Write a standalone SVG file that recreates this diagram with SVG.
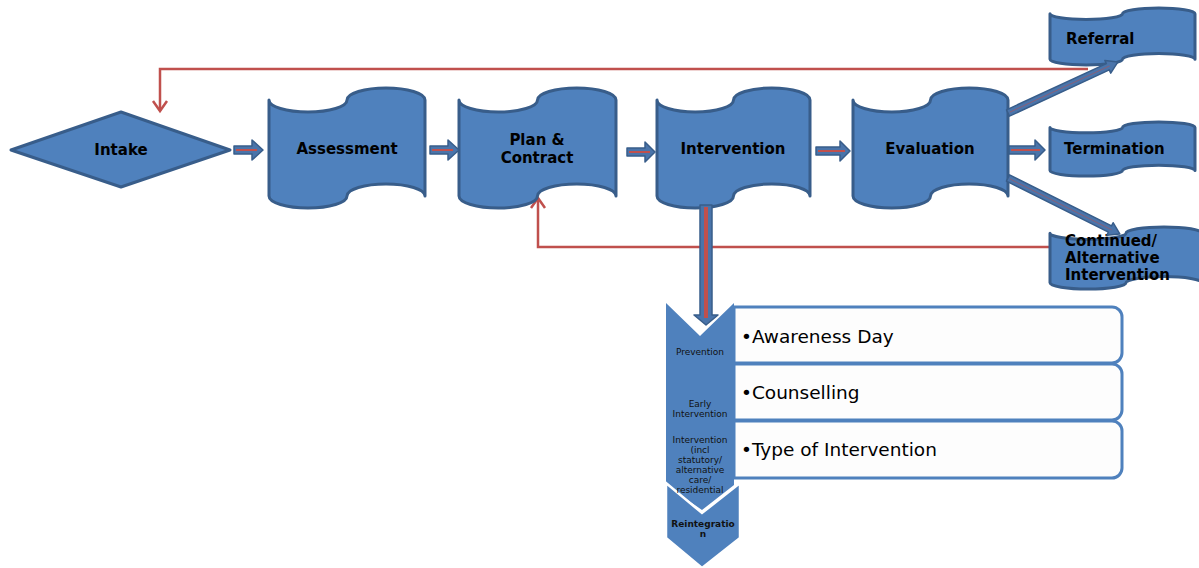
<svg xmlns="http://www.w3.org/2000/svg" width="1199" height="568" viewBox="0 0 1199 568">
<defs>
<style>
.node{fill:#4f81bd;stroke:#385d8a;stroke-width:3;stroke-linejoin:round}
.lbl{font-family:"DejaVu Sans",Verdana,sans-serif;font-weight:bold;font-size:15px;fill:#000}
.red{fill:none;stroke:#c0504d;stroke-width:2.5}
.redc{fill:none;stroke:#c0504d;stroke-width:2}
.blk{fill:#4a74aa;stroke:#385d8a;stroke-width:1.5;stroke-linejoin:round}
.chev{fill:#4f81bd}
.ctx{font-family:"DejaVu Sans",Verdana,sans-serif;font-size:9px;fill:#111;text-anchor:middle}
.box{fill:#fdfdfd;stroke:#4f81bd;stroke-width:3}
.btx{font-family:"DejaVu Sans",Verdana,sans-serif;font-size:18.5px;fill:#000}
</style>
</defs>
<rect width="1199" height="568" fill="#fff"/>

<g id="feedback-lines">
<polyline class="red" points="1088,69 160,69 160,111"/>
<polyline class="red" points="153,101 160,111 167,101"/>
<polyline class="red" points="1052,247 538,247 538,198"/>
<polyline class="red" points="531,208 538,198 545,208"/>
</g>

<g id="intake">
<polygon class="node" points="11,150 121,112 230,150 121,187"/>
<text class="lbl" x="121" y="155" text-anchor="middle">Intake</text>
</g>
<g id="assessment">
<path class="node" d="M269,100 A39,12 0 0 0 347,100 A39,12 0 0 1 425,100 L425,196 A39,12 0 0 0 347,196 A39,12 0 0 1 269,196 Z"/>
<text class="lbl" x="347" y="154" text-anchor="middle">Assessment</text>
</g>
<g id="plan">
<path class="node" d="M459,100 A39.25,12 0 0 0 537.5,100 A39.25,12 0 0 1 616,100 L616,196 A39.25,12 0 0 0 537.5,196 A39.25,12 0 0 1 459,196 Z"/>
<text class="lbl" x="537" y="145" text-anchor="middle">Plan &amp;</text>
<text class="lbl" x="537" y="163" text-anchor="middle">Contract</text>
</g>
<g id="intervention">
<path class="node" d="M657,100 A38.25,12 0 0 0 733.5,100 A38.25,12 0 0 1 810,100 L810,196 A38.25,12 0 0 0 733.5,196 A38.25,12 0 0 1 657,196 Z"/>
<text class="lbl" x="733" y="154" text-anchor="middle">Intervention</text>
</g>
<g id="evaluation">
<path class="node" d="M853,100 A38.75,12 0 0 0 930.5,100 A38.75,12 0 0 1 1008,100 L1008,196 A38.75,12 0 0 0 930.5,196 A38.75,12 0 0 1 853,196 Z"/>
<text class="lbl" x="930" y="154" text-anchor="middle">Evaluation</text>
</g>
<g id="referral">
<path class="node" d="M1050,13.7 A36.25,5.7 0 0 0 1122.5,13.7 A36.25,5.7 0 0 1 1195,13.7 L1195,59.3 A36.25,5.7 0 0 0 1122.5,59.3 A36.25,5.7 0 0 1 1050,59.3 Z"/>
<text class="lbl" x="1066" y="44">Referral</text>
</g>
<g id="termination">
<path class="node" d="M1050,127.4 A36.25,5.4 0 0 0 1122.5,127.4 A36.25,5.4 0 0 1 1195,127.4 L1195,170.6 A36.25,5.4 0 0 0 1122.5,170.6 A36.25,5.4 0 0 1 1050,170.6 Z"/>
<text class="lbl" x="1064" y="154">Termination</text>
</g>
<g id="continued">
<path class="node" d="M1050,233.2 A38,6.2 0 0 0 1126,233.2 A38,6.2 0 0 1 1202,233.2 L1202,282.8 A38,6.2 0 0 0 1126,282.8 A38,6.2 0 0 1 1050,282.8 Z"/>
<text class="lbl" x="1065" y="246">Continued/</text>
<text class="lbl" x="1065" y="263">Alternative</text>
<text class="lbl" x="1065" y="280">Intervention</text>
</g>

<g id="levels">
<g id="level-boxes">
<path class="box" d="M734,307 H1112 A10,10 0 0 1 1122,317 V353 A10,10 0 0 1 1112,363 H734 Z"/>
<path class="box" d="M734,364 H1112 A10,10 0 0 1 1122,374 V410 A10,10 0 0 1 1112,420 H734 Z"/>
<path class="box" d="M734,421 H1112 A10,10 0 0 1 1122,431 V468 A10,10 0 0 1 1112,478 H734 Z"/>
<text class="btx" x="741" y="343">•Awareness Day</text>
<text class="btx" x="741" y="399">•Counselling</text>
<text class="btx" x="741" y="456">•Type of Intervention</text>
</g>
<g id="level-chevrons">
<polygon class="chev" points="666,303 700,336 734,303 734,485 702,510 666,485"/>
<polygon class="chev" points="666,483 702,513 740,483 740,538 702,568 666,538" stroke="#fff" stroke-width="2.5" stroke-linejoin="miter"/>
<text class="ctx" x="700" y="355">Prevention</text>
<text class="ctx" x="700" y="407">Early</text>
<text class="ctx" x="700" y="417">Intervention</text>
<text class="ctx" x="700" y="443">Intervention</text>
<text class="ctx" x="700" y="453">(incl</text>
<text class="ctx" x="700" y="463">statutory/</text>
<text class="ctx" x="700" y="473">alternative</text>
<text class="ctx" x="700" y="483">care/</text>
<text class="ctx" x="700" y="493">residential</text>
<text class="ctx" x="703" y="527" font-weight="bold">Reintegratio</text>
<text class="ctx" x="703" y="537" font-weight="bold">n</text>
</g>
</g>

<g id="connectors">
<polygon class="blk" points="234,146 252,146 252,140 263,150 252,160 252,154 234,154"/>
<line class="redc" x1="236" y1="150" x2="257" y2="150"/>
<polygon class="blk" points="430,146 448,146 448,140 459,150 448,160 448,154 430,154"/>
<line class="redc" x1="432" y1="150" x2="453" y2="150"/>
<polygon class="blk" points="627,148 645,148 645,142 655,152 645,162 645,156 627,156"/>
<line class="redc" x1="629" y1="152" x2="650" y2="152"/>
<polygon class="blk" points="816,147 840,147 840,141 850,151 840,161 840,155 816,155"/>
<line class="redc" x1="818" y1="151" x2="845" y2="151"/>
<polygon class="blk" points="1009,146 1035,146 1035,140 1045,150 1035,160 1035,154 1009,154"/>
<line class="redc" x1="1011" y1="150" x2="1040" y2="150"/>
<g transform="translate(1008,113) rotate(-24.87)">
<polygon class="blk" points="0,-3.5 110,-3.5 110,-7 121,0 110,7 110,3.5 0,3.5"/>
<line x1="2" y1="0" x2="112" y2="0" stroke="#c0504d" stroke-width="0.8" opacity="0.6"/>
</g>
<g transform="translate(1008,178) rotate(26.57)">
<polygon class="blk" points="0,-3.5 114,-3.5 114,-7 125,0 114,7 114,3.5 0,3.5"/>
<line x1="2" y1="0" x2="116" y2="0" stroke="#c0504d" stroke-width="0.8" opacity="0.6"/>
</g>
<polygon class="blk" points="700,205 712,205 712,315 718,315 706,325 694,315 700,315"/>
<line x1="706" y1="207" x2="706" y2="318" stroke="#c0504d" stroke-width="4"/>
</g>
</svg>
